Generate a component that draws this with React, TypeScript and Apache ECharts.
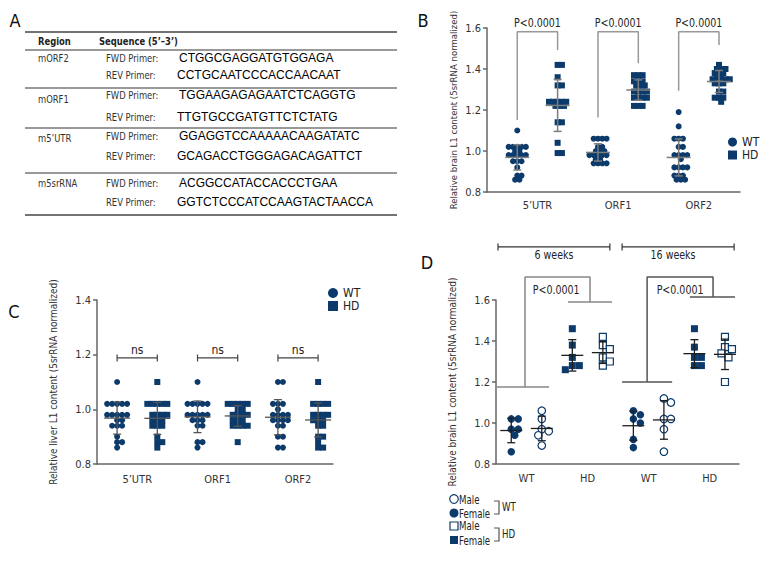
import React, { useEffect, useRef } from "react";
import * as echarts from "echarts";

const NAVY = "#0b3a6b";
const NARROW = "'Liberation Sans Narrow','DejaVu Sans Condensed','Roboto Condensed',sans-serif";
const SANS = "'Liberation Sans',Arial,sans-serif";

// ---------------- Panel A (primer table) ----------------
const aRegions = ["mORF2", "mORF1", "m5’UTR", "m5srRNA"];
const aFwd = ["CTGGCGAGGATGTGGAGA", "TGGAAGAGAGAATCTCAGGTG", "GGAGGTCCAAAAACAAGATATC", "ACGGCCATACCACCCTGAA"];
const aRev = ["CCTGCAATCCCACCAACAAT", "TTGTGCCGATGTTCTCTATG", "GCAGACCTGGGAGACAGATTCT", "GGTCTCCCATCCAAGTACTAACCA"];

// ---------------- Panel B (brain, WT vs HD) ----------------
const bCategories = ["5’UTR", "ORF1", "ORF2"];
const b5utrWT = [1.10, 1.02, 1.02, 1.02, 1.02, 1.02, 1.00, 1.00, 0.98, 0.98, 0.98, 0.98, 0.98, 0.95, 0.95, 0.95, 0.92, 0.88, 0.88, 0.86, 0.86];
const b5utrHD = [1.42, 1.42, 1.36, 1.32, 1.32, 1.24, 1.24, 1.24, 1.24, 1.24, 1.22, 1.22, 1.22, 1.14, 1.14, 1.04, 0.99, 0.99];
const bOrf1WT = [1.06, 1.06, 1.06, 1.06, 1.02, 1.02, 1.00, 1.00, 1.00, 0.98, 0.98, 0.98, 0.98, 0.98, 0.96, 0.96, 0.94, 0.94, 0.94, 0.94];
const bOrf1HD = [1.37, 1.37, 1.37, 1.34, 1.34, 1.34, 1.32, 1.32, 1.32, 1.29, 1.29, 1.29, 1.29, 1.26, 1.26, 1.26, 1.26, 1.22, 1.22, 1.22];
const bOrf2WT = [1.19, 1.12, 1.06, 1.06, 1.06, 1.02, 1.02, 0.98, 0.98, 0.98, 0.98, 0.96, 0.92, 0.92, 0.92, 0.92, 0.88, 0.88, 0.88, 0.86, 0.86, 0.86];
const bOrf2HD = [1.42, 1.40, 1.40, 1.40, 1.38, 1.38, 1.38, 1.36, 1.36, 1.35, 1.35, 1.35, 1.33, 1.33, 1.33, 1.29, 1.29, 1.26, 1.26, 1.26, 1.24];
const bBracketWT = [1.151, 1.164, 1.294];
const bBracketHD = [1.493, 1.428, 1.517];
const bBracketTop = 1.582;
const bPText = ["P<0.0001", "P<0.0001", "P<0.0001"];

// ---------------- Panel C (liver, WT vs HD) ----------------
const cCategories = ["5’UTR", "ORF1", "ORF2"];
const c5utrWT = [1.10, 1.02, 1.02, 1.02, 1.02, 1.02, 0.98, 0.98, 0.98, 0.98, 0.98, 0.96, 0.96, 0.94, 0.94, 0.94, 0.90, 0.88, 0.88, 0.86];
const c5utrHD = [1.10, 1.02, 1.02, 1.02, 1.02, 1.02, 0.98, 0.98, 0.98, 0.98, 0.96, 0.96, 0.96, 0.94, 0.94, 0.94, 0.90, 0.88, 0.88, 0.86];
const cOrf1WT = [1.10, 1.02, 1.02, 1.02, 1.02, 1.02, 0.98, 0.98, 0.98, 0.98, 0.98, 0.96, 0.96, 0.96, 0.94, 0.94, 0.88, 0.88, 0.86];
const cOrf1HD = [1.02, 1.02, 1.02, 1.02, 1.02, 1.00, 1.00, 0.98, 0.98, 0.98, 0.98, 0.96, 0.96, 0.96, 0.94, 0.94, 0.94, 0.94, 0.88];
const cOrf2WT = [1.10, 1.10, 1.02, 1.02, 1.02, 1.00, 0.98, 0.98, 0.98, 0.98, 0.96, 0.96, 0.96, 0.96, 0.94, 0.94, 0.90, 0.90, 0.86, 0.86];
const cOrf2HD = [1.10, 1.02, 1.02, 1.02, 1.02, 0.98, 0.98, 0.98, 0.98, 0.96, 0.96, 0.96, 0.94, 0.94, 0.90, 0.90, 0.88, 0.86, 0.86];
const cNsY = 1.188;
const cNsText = ["ns", "ns", "ns"];

// ---------------- Panel D (brain by age and sex) ----------------
const dCategories = ["WT", "HD", "WT", "HD"];
const d6WTFemale = [1.02, 1.02, 0.97, 0.97, 0.94, 0.86];
const d6WTMale = [1.06, 1.02, 0.97, 0.96, 0.94, 0.89];
const d6HDFemale = [1.46, 1.38, 1.32, 1.28, 1.28, 1.26];
const d6HDMale = [1.42, 1.38, 1.36, 1.32, 1.30, 1.28];
const d16WTFemale = [1.06, 1.04, 1.02, 1.00, 0.92, 0.88];
const d16WTMale = [1.12, 1.10, 1.02, 1.02, 0.97, 0.86];
const d16HDFemale = [1.46, 1.37, 1.32, 1.32, 1.28, 1.28];
const d16HDMale = [1.42, 1.37, 1.36, 1.34, 1.32, 1.20];
const dAges = ["6 weeks", "16 weeks"];
const dPText = ["P<0.0001", "P<0.0001"];

// ---------------- helpers ----------------
const mean = (a: number[]) => a.reduce((s, v) => s + v, 0) / a.length;
const sd = (a: number[]) => {
  const m = mean(a);
  return Math.sqrt(a.reduce((s, v) => s + (v - m) * (v - m), 0) / (a.length - 1));
};

// beeswarm layout: horizontal offsets so that markers do not overlap more than d px
function swarm(values: number[], cx: number, pxX: number, pxY: number, d: number): number[][] {
  const placed: { x: number; y: number }[] = [];
  const out: number[][] = [];
  const sorted = values.slice().sort((a, b) => b - a);
  const step = d / 2;
  for (const v of sorted) {
    const y = v * pxY;
    let chosen = 0;
    for (let k = 0; k < 80; k++) {
      const off = k === 0 ? 0 : (k % 2 === 1 ? 1 : -1) * Math.ceil(k / 2) * step;
      if (placed.every((p) => (p.x - off) ** 2 + (p.y - y) ** 2 >= d * d * 0.98)) {
        chosen = off;
        break;
      }
    }
    placed.push({ x: chosen, y });
    out.push([cx + chosen / pxX, v]);
  }
  return out;
}

function scatter(axis: number, name: string, symbol: string, size: number, data: number[][], open: boolean) {
  return {
    type: "scatter",
    name,
    xAxisIndex: axis,
    yAxisIndex: axis,
    symbol,
    symbolSize: size,
    clip: false,
    silent: true,
    z: 2,
    itemStyle: open
      ? { color: "#ffffff", borderColor: NAVY, borderWidth: 1.2, opacity: 1 }
      : { color: NAVY, opacity: 1 },
    data,
  };
}

function errorBars(axis: number, data: number[][], color: string, hw: number, cw: number, lw: number) {
  return {
    type: "custom",
    xAxisIndex: axis,
    yAxisIndex: axis,
    silent: true,
    z: 4,
    data,
    renderItem: (params: any, api: any) => {
      const x = api.value(0);
      const m = api.value(1);
      const s = api.value(2);
      const c = api.coord([x, m]);
      const t = api.coord([x, m + s]);
      const b = api.coord([x, m - s]);
      const style = { stroke: color, lineWidth: lw, fill: null };
      return {
        type: "group",
        children: [
          { type: "line", shape: { x1: c[0] - hw, y1: c[1], x2: c[0] + hw, y2: c[1] }, style },
          { type: "line", shape: { x1: c[0], y1: t[1], x2: c[0], y2: b[1] }, style },
          { type: "line", shape: { x1: c[0] - cw, y1: t[1], x2: c[0] + cw, y2: t[1] }, style },
          { type: "line", shape: { x1: c[0] - cw, y1: b[1], x2: c[0] + cw, y2: b[1] }, style },
        ],
      };
    },
  };
}

function bracket(axis: number, pts: number[][], color: string, width: number) {
  return {
    type: "line",
    xAxisIndex: axis,
    yAxisIndex: axis,
    symbol: "none",
    clip: false,
    silent: true,
    z: 3,
    lineStyle: { color, width },
    data: pts,
  };
}

function texts(axis: number, items: { x: number; y: number; text: string }[], size: number, color: string, sx = 1) {
  return {
    type: "custom",
    xAxisIndex: axis,
    yAxisIndex: axis,
    silent: true,
    z: 5,
    data: items.map((it) => [it.x, it.y]),
    renderItem: (params: any, api: any) => {
      const p = api.coord([api.value(0), api.value(1)]);
      return {
        type: "text",
        x: p[0],
        y: p[1],
        scaleX: sx,
        style: {
          text: items[params.dataIndex].text,
          font: `${size}px ${NARROW}`,
          fill: color,
          textAlign: "center",
          textVerticalAlign: "middle",
        },
      };
    },
  };
}

function xAxis(grid: number, min: number, max: number, interval: number, pos: number[], labels: string[], margin: number) {
  return {
    type: "value",
    gridIndex: grid,
    min,
    max,
    interval,
    axisLine: { show: true, onZero: false, lineStyle: { color: "#666", width: 1.5 } },
    axisTick: { show: false },
    splitLine: { show: false },
    axisLabel: {
      margin,
      fontFamily: NARROW,
      fontSize: 11,
      color: "#333",
      showMinLabel: true,
      showMaxLabel: true,
      formatter: (v: number) => {
        const i = pos.findIndex((p) => Math.abs(p - v) < 1e-6);
        return i >= 0 ? labels[i] : "";
      },
    },
  };
}

function yAxis(grid: number, min: number, max: number, name: string, gap: number, nameSize: number) {
  return {
    type: "value",
    gridIndex: grid,
    min,
    max,
    interval: 0.2,
    name,
    nameLocation: "middle",
    nameGap: gap,
    nameTextStyle: { fontFamily: NARROW, fontSize: nameSize, color: "#333" },
    axisLine: { show: true, lineStyle: { color: "#666", width: 1.5 } },
    axisTick: { show: true, length: 4, lineStyle: { color: "#666", width: 1.5 } },
    splitLine: { show: false },
    axisLabel: {
      margin: 6,
      fontFamily: NARROW,
      fontSize: 11,
      color: "#333",
      formatter: (v: number) => v.toFixed(1),
    },
  };
}

function gText(x: number, y: number, text: string, font: string, fill = "#222", align = "left", sx = 1) {
  return {
    type: "text",
    x,
    y,
    scaleX: sx,
    silent: true,
    z: 10,
    style: { text, font, fill, textAlign: align, textVerticalAlign: "middle" },
  };
}

function gLine(x1: number, y1: number, x2: number, y2: number, stroke: string, lw: number) {
  return { type: "line", silent: true, z: 10, shape: { x1, y1, x2, y2 }, style: { stroke, lineWidth: lw } };
}

function buildOption() {
  const series: any[] = [];

  // ---- B ----
  const bPxX = 253 / (6.52 - 0.25);
  const bPxY = 164 / 0.8;
  const bWT = [b5utrWT, bOrf1WT, bOrf2WT];
  const bHD = [b5utrHD, bOrf1HD, bOrf2HD];
  const bErr: number[][] = [];
  bWT.forEach((vals, i) => {
    series.push(scatter(0, "WT", "circle", 6, swarm(vals, 2 * i + 1, bPxX, bPxY, 4.3), false));
    bErr.push([2 * i + 1, mean(vals), sd(vals)]);
  });
  bHD.forEach((vals, i) => {
    series.push(scatter(0, "HD", "rect", 6, swarm(vals, 2 * i + 2, bPxX, bPxY, 4.3), false));
    bErr.push([2 * i + 2, mean(vals), sd(vals)]);
  });
  series.push(errorBars(0, bErr, "#7d7d7d", 12, 4, 1.5));
  bBracketWT.forEach((wt, i) => {
    series.push(
      bracket(0, [[2 * i + 1, wt], [2 * i + 1, bBracketTop], [2 * i + 2, bBracketTop], [2 * i + 2, bBracketHD[i]]], "#999", 1.5)
    );
  });
  series.push(texts(0, bPText.map((t, i) => ({ x: 2 * i + 1.5, y: 1.623, text: t })), 12, "#222", 0.88));

  // ---- C ----
  const cPxX = 236 / (6.37 - 0.5);
  const cPxY = 164 / 0.6;
  const cWT = [c5utrWT, cOrf1WT, cOrf2WT];
  const cHD = [c5utrHD, cOrf1HD, cOrf2HD];
  const cErr: number[][] = [];
  cWT.forEach((vals, i) => {
    series.push(scatter(1, "WT", "circle", 6, swarm(vals, 2 * i + 1, cPxX, cPxY, 5), false));
    cErr.push([2 * i + 1, mean(vals), sd(vals)]);
  });
  cHD.forEach((vals, i) => {
    series.push(scatter(1, "HD", "rect", 6, swarm(vals, 2 * i + 2, cPxX, cPxY, 5), false));
    cErr.push([2 * i + 2, mean(vals), sd(vals)]);
  });
  series.push(errorBars(1, cErr, "#555", 13, 4, 1.3));
  const e = 0.013;
  cNsText.forEach((_, i) => {
    const x1 = 2 * i + 1;
    const x2 = 2 * i + 2;
    series.push(
      bracket(1, [[x1, cNsY + e], [x1, cNsY - e], [x1, cNsY], [x2, cNsY], [x2, cNsY + e], [x2, cNsY - e]], "#444", 1.2)
    );
  });
  series.push(texts(1, cNsText.map((t, i) => ({ x: 2 * i + 1.5, y: 1.217, text: t })), 12, "#222"));

  // ---- D ----
  const dPxX = 243 / (8.46 - 0.5);
  const dPxY = 164 / 0.8;
  const dGroups = [
    { vals: d6WTFemale, sym: "circle", open: false, name: "WT Female" },
    { vals: d6WTMale, sym: "circle", open: true, name: "WT Male" },
    { vals: d6HDFemale, sym: "rect", open: false, name: "HD Female" },
    { vals: d6HDMale, sym: "rect", open: true, name: "HD Male" },
    { vals: d16WTFemale, sym: "circle", open: false, name: "WT Female" },
    { vals: d16WTMale, sym: "circle", open: true, name: "WT Male" },
    { vals: d16HDFemale, sym: "rect", open: false, name: "HD Female" },
    { vals: d16HDMale, sym: "rect", open: true, name: "HD Male" },
  ];
  const dErr: number[][] = [];
  dGroups.forEach((g, i) => {
    const size = g.sym === "circle" ? 7.5 : 7;
    series.push(scatter(2, g.name, g.sym, size, swarm(g.vals, i + 1, dPxX, dPxY, 7), g.open));
    dErr.push([i + 1, mean(g.vals), sd(g.vals)]);
  });
  series.push(errorBars(2, dErr, "#1e1e1e", 11, 4, 1.3));
  // significance brackets (6 weeks, 16 weeks)
  series.push(
    bracket(2, [[0.53, 1.176], [2.24, 1.176], [1.45, 1.176], [1.45, 1.712], [3.58, 1.712], [3.58, 1.59], [2.86, 1.59], [4.3, 1.59]], "#888", 1.5)
  );
  series.push(
    bracket(2, [[4.63, 1.2], [6.27, 1.2], [5.45, 1.2], [5.45, 1.712], [7.61, 1.712], [7.61, 1.615], [6.85, 1.615], [8.33, 1.615]], "#555", 1.5)
  );
  series.push(texts(2, dPText.map((t, i) => ({ x: i === 0 ? 2.47 : 6.53, y: 1.649, text: t })), 12, "#222", 0.88));
  // age brackets
  const wy = 1.859;
  const we = 0.017;
  series.push(bracket(2, [[0.566, wy + we], [0.566, wy - we], [0.566, wy], [4.23, wy], [4.23, wy + we], [4.23, wy - we]], "#333", 1.2));
  series.push(bracket(2, [[4.63, wy + we], [4.63, wy - we], [4.63, wy], [8.3, wy], [8.3, wy + we], [8.3, wy - we]], "#333", 1.2));
  series.push(texts(2, dAges.map((t, i) => ({ x: i === 0 ? 2.4 : 6.3, y: 1.82, text: t })), 12, "#222", 0.88));

  // ---- graphic: panel A table, panel letters, panel D legend ----
  const lineY = [32, 50, 88, 128, 173, 215];
  const regionY = [58, 99, 138, 183];
  const fwdY = [58, 95, 136, 183];
  const revY = [75, 117, 156, 202];
  const smallFont = `11px ${NARROW}`;
  const seqFont = `12px ${SANS}`;
  const NS = 0.85;
  const graphic: any[] = [];
  lineY.forEach((y, i) => graphic.push(gLine(25, y, 397, y, i === 0 || i === lineY.length - 1 ? "#444" : "#777", 1.3)));
  graphic.push(gText(38, 41, "Region", `bold 11px ${NARROW}`, "#222", "left", NS));
  graphic.push(gText(99, 41, "Sequence (5’–3’)", `bold 11px ${NARROW}`, "#222", "left", NS));
  aRegions.forEach((r, i) => {
    graphic.push(gText(38, regionY[i], r, smallFont, "#333", "left", NS));
    graphic.push(gText(106, fwdY[i], "FWD Primer:", smallFont, "#333", "left", NS));
    graphic.push(gText(106, revY[i], "REV Primer:", smallFont, "#333", "left", NS));
    graphic.push(gText(179, fwdY[i], aFwd[i], seqFont, "#000"));
    graphic.push(gText(177, revY[i], aRev[i], seqFont, "#000"));
  });
  const letterFont = `18px ${NARROW}`;
  graphic.push(gText(15, 20, "A", letterFont, "#111", "center"));
  graphic.push(gText(423, 20, "B", letterFont, "#111", "center"));
  graphic.push(gText(14, 311, "C", letterFont, "#111", "center"));
  graphic.push(gText(427, 262, "D", letterFont, "#111", "center"));

  // D legend
  const lf = `12px ${NARROW}`;
  const LS = 0.8;
  graphic.push({ type: "circle", z: 10, silent: true, shape: { cx: 454, cy: 499, r: 4.3 }, style: { fill: "#fff", stroke: NAVY, lineWidth: 1.2 } });
  graphic.push(gText(459, 500, "Male", lf, "#222", "left", LS));
  graphic.push({ type: "circle", z: 10, silent: true, shape: { cx: 454, cy: 513, r: 4.5 }, style: { fill: NAVY } });
  graphic.push(gText(459, 514, "Female", lf, "#222", "left", LS));
  graphic.push({ type: "rect", z: 10, silent: true, shape: { x: 450, y: 522, width: 8, height: 8 }, style: { fill: "#fff", stroke: NAVY, lineWidth: 1.2 } });
  graphic.push(gText(459, 526, "Male", lf, "#222", "left", LS));
  graphic.push({ type: "rect", z: 10, silent: true, shape: { x: 450, y: 536, width: 8, height: 8 }, style: { fill: NAVY } });
  graphic.push(gText(459, 541, "Female", lf, "#222", "left", LS));
  graphic.push({ type: "polyline", z: 10, silent: true, shape: { points: [[494, 501], [499, 501], [499, 514], [494, 514]] }, style: { stroke: "#555", lineWidth: 1.2, fill: null } });
  graphic.push(gText(502, 507, "WT", lf, "#222", "left", LS));
  graphic.push({ type: "polyline", z: 10, silent: true, shape: { points: [[494, 528], [499, 528], [499, 541], [494, 541]] }, style: { stroke: "#555", lineWidth: 1.2, fill: null } });
  graphic.push(gText(502, 534, "HD", lf, "#222", "left", LS));

  return {
    animation: false,
    backgroundColor: "#ffffff",
    grid: [
      { left: 487, top: 28, width: 253, height: 164 },
      { left: 97, top: 300, width: 236, height: 164 },
      { left: 496, top: 300, width: 243, height: 164 },
    ],
    xAxis: [
      xAxis(0, 0.25, 6.52, 0.25, [1.5, 3.5, 5.5], bCategories, 8),
      xAxis(1, 0.5, 6.37, 0.5, [1.5, 3.5, 5.5], cCategories, 10),
      xAxis(2, 0.5, 8.46, 0.5, [1.5, 3.5, 5.5, 7.5], dCategories, 9),
    ],
    yAxis: [
      yAxis(0, 0.8, 1.6, "Relative brain L1 content (5srRNA normalized)", 29, 9.5),
      yAxis(1, 0.8, 1.4, "Relative liver L1 content (5srRNA normalized)", 39, 10),
      yAxis(2, 0.8, 1.6, "Relative brain L1 content (5srRNA normalized)", 39, 10),
    ],
    legend: [
      {
        left: 728,
        top: 136,
        orient: "vertical",
        padding: 0,
        itemWidth: 9,
        itemHeight: 9,
        itemGap: 1,
        selectedMode: false,
        textStyle: { fontFamily: NARROW, fontSize: 12, color: "#222" },
        data: [
          { name: "WT", icon: "circle" },
          { name: "HD", icon: "rect" },
        ],
      },
      {
        left: 328,
        top: 287,
        orient: "vertical",
        padding: 0,
        itemWidth: 10,
        itemHeight: 10,
        itemGap: 1,
        selectedMode: false,
        textStyle: { fontFamily: NARROW, fontSize: 12, color: "#222" },
        data: [
          { name: "WT", icon: "circle" },
          { name: "HD", icon: "rect" },
        ],
      },
    ],
    graphic,
    series,
  };
}

export default function App() {
  const ref = useRef<HTMLDivElement>(null);
  useEffect(() => {
    const chart = echarts.init(ref.current as HTMLDivElement, null, { renderer: "svg" });
    chart.setOption(buildOption() as any);
    return () => chart.dispose();
  }, []);
  return (
    <div
      ref={ref}
      style={{ position: "fixed", left: 0, top: 0, width: 780, height: 564, background: "#ffffff" }}
    />
  );
}
